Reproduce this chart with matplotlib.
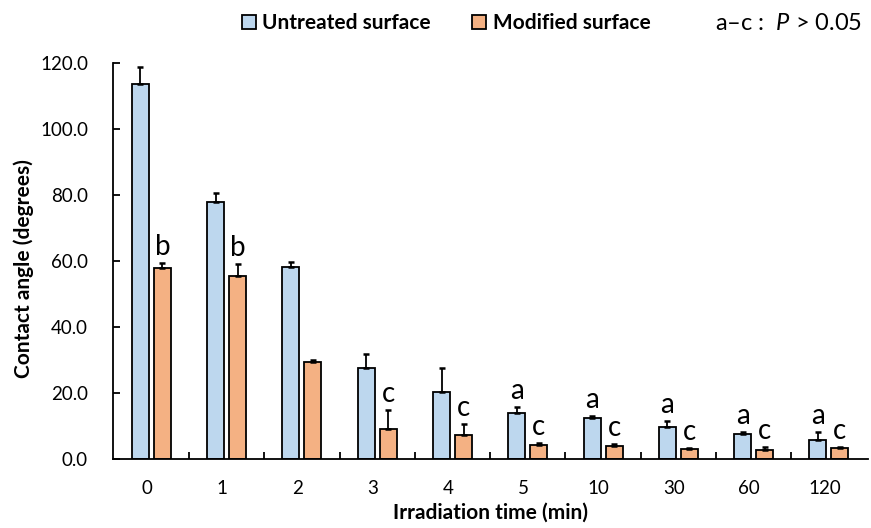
import matplotlib.pyplot as plt
import numpy as np
from matplotlib.patches import Patch

# data
times = ['0', '1', '2', '3', '4', '5', '10', '30', '60', '120']
untreated = [113.6, 78.0, 58.3, 27.6, 20.4, 13.8, 12.3, 9.8, 7.6, 5.8]
untreated_err = [5.2, 2.7, 1.5, 4.2, 7.2, 1.9, 0.8, 1.8, 0.5, 2.4]
modified = [57.9, 55.5, 29.4, 9.1, 7.3, 4.2, 3.9, 3.0, 2.6, 3.3]
modified_err = [1.6, 3.5, 0.6, 5.7, 3.2, 0.6, 0.6, 0.3, 1.0, 0.4]
untreated_letters = ['', '', '', '', '', 'a', 'a', 'a', 'a', 'a']
modified_letters = ['b', 'b', '', 'c', 'c', 'c', 'c', 'c', 'c', 'c']

plt.rcParams['font.family'] = ['Lato', 'DejaVu Sans']
plt.rcParams['mathtext.fontset'] = 'custom'
plt.rcParams['mathtext.it'] = 'Lato:italic'
plt.rcParams['mathtext.rm'] = 'Lato'

fig = plt.figure(figsize=(8.71, 5.28), dpi=100)
ax = fig.add_axes([0.1297, 0.1307, 0.867, 0.75])

x = np.arange(len(times))
w = 0.226
gap = 0.066
shift = 0.06
xu = x + shift - (w + gap) / 2
xm = x + shift + (w + gap) / 2

ax.bar(xu, untreated, w, color='#BDD7EE', edgecolor='black', linewidth=1.3,
       yerr=[np.zeros(len(x)), untreated_err], capsize=2.2,
       error_kw=dict(elinewidth=1.3, capthick=1.8), label='Untreated surface')
ax.bar(xm, modified, w, color='#F4B183', edgecolor='black', linewidth=1.3,
       yerr=[np.zeros(len(x)), modified_err], capsize=2.2,
       error_kw=dict(elinewidth=1.3, capthick=1.8), label='Modified surface')

for i in range(len(x)):
    if untreated_letters[i]:
        ax.text(xu[i], untreated[i] + untreated_err[i] + 2.4, untreated_letters[i],
                ha='center', va='baseline', fontsize=20)
    if modified_letters[i]:
        ax.text(xm[i], modified[i] + modified_err[i] + 2.4, modified_letters[i],
                ha='center', va='baseline', fontsize=20)

ax.set_xlim(-0.45, len(x) - 0.42)
ax.set_ylim(0, 120)
ax.set_yticks(np.arange(0, 121, 20))
ax.set_yticklabels([f'{v:.1f}' for v in np.arange(0, 121, 20)], fontsize=13.5)
ax.set_xticks(x)
ax.set_xticklabels(times, fontsize=13.5)
ax.tick_params(axis='x', length=0, pad=15)
ax.set_xticks(x[:-1] + 0.5 + shift, minor=True)
ax.tick_params(axis='x', which='minor', direction='in', length=5, width=1.3)
ax.tick_params(axis='y', direction='in', length=5, width=1.3, pad=18)
ax.spines['top'].set_visible(False)
ax.spines['right'].set_visible(False)
ax.spines['left'].set_linewidth(1.3)
ax.spines['bottom'].set_linewidth(1.3)

ax.set_xlabel('Irradiation time (min)', fontsize=15, fontweight='bold', labelpad=4)
ax.set_ylabel('Contact angle (degrees)', fontsize=15, fontweight='bold', labelpad=4)
ax.yaxis.set_label_coords(-0.105, 0.48)

handles = [Patch(facecolor='#BDD7EE', edgecolor='black', linewidth=1.3),
           Patch(facecolor='#F4B183', edgecolor='black', linewidth=1.3)]
fig.legend(handles, ['Untreated surface', 'Modified surface'], ncol=2,
           loc='center', bbox_to_anchor=(0.512, 0.956), frameon=False,
           prop=dict(size=15, weight='bold'), handlelength=0.68, handleheight=0.68,
           handletextpad=0.3, columnspacing=2.0)
fig.text(0.821, 0.956, 'a\u2013c :  $P$ > 0.05', fontsize=17, ha='left', va='center')

fig.savefig('out.png', dpi=100)
